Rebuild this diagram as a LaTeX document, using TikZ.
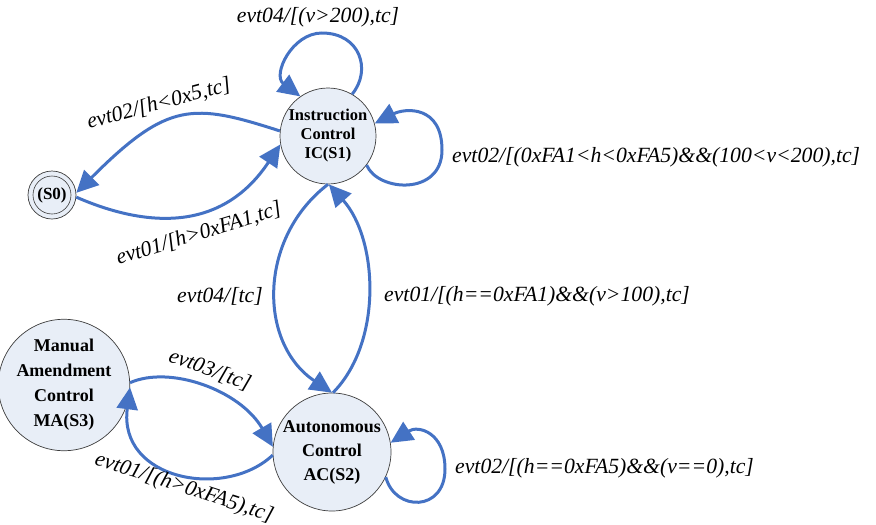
\documentclass[tikz,border=0pt]{standalone}
\usepackage{fontspec}
\setmainfont{Liberation Serif}
\usetikzlibrary{arrows.meta}
\definecolor{edgeblue}{RGB}{68,114,196}
\definecolor{statefill}{RGB}{232,238,247}
\definecolor{stateline}{RGB}{60,60,60}
\begin{document}
\begin{tikzpicture}[x=1pt,y=1pt,
  state/.style={circle,draw=stateline,line width=0.7pt,fill=statefill,inner sep=0pt,align=center},
  trans/.style={draw=edgeblue,line width=3pt,-{Triangle[length=22pt,width=21pt]}},
  lbl/.style={font=\fontsize{21.7}{24}\selectfont\itshape,inner sep=0pt}]
\useasboundingbox (0,0) rectangle (876,-525);

% states
\node[state,minimum size=48pt,font=\fontsize{17}{20}\selectfont\bfseries] (s0) at (52,-195) {(S0)};
\draw[stateline,line width=0.6pt] (s0.center) circle[radius=19pt];
\node[state,minimum size=96pt,font=\fontsize{16.5}{19}\selectfont\bfseries] (s1) at (328,-136) {Instruction\\Control\\IC(S1)};
\node[state,minimum size=118pt,font=\fontsize{18}{24}\selectfont\bfseries] (s2) at (332,-452) {Autonomous\\Control\\AC(S2)};
\node[state,minimum size=116pt,font=\fontsize{18}{25}\selectfont\bfseries] (s3) at (64,-385) {Manual\\Amendment\\Control\\MA(S3)};

% self-loop turning points
\coordinate (t1) at (322,-33);
\coordinate (r1) at (442,-150);
\coordinate (r2) at (445,-469);

% transitions
\draw[trans] (s1.174) .. controls (193,-103) and (168,-101) .. (s0.5);
\draw[trans] (s0.-5) .. controls (131,-221) and (216,-241) .. (s1.190);
\draw[trans] (s1.60) .. controls (372,-70) and (360,-33) .. (t1)
                      .. controls (292,-33) and (272,-75) .. (s1.125);
\draw[trans] (s1.-37) .. controls (378,-192) and (442,-196) .. (r1)
                       .. controls (442,-105) and (405,-108) .. (s1.15);
\draw[trans] (s1.270) .. controls (258,-238) and (258,-343) .. (s2.90);
\draw[trans] (s2.89) .. controls (383,-342) and (378,-239) .. (s1.271);
\draw[trans] (s3.2) .. controls (170,-365) and (240,-390) .. (s2.175);
\draw[trans] (s2.183) .. controls (225,-500) and (118,-480) .. (s3.-2);
\draw[trans] (s2.-25) .. controls (395,-512) and (445,-512) .. (r2)
                       .. controls (445,-432) and (418,-425) .. (s2.9);

% transition labels
\node[lbl] (l1) at (318,-17) {evt04/[(v>200),tc]};
\node[lbl,rotate=15] (l2) at (159,-104) {evt02/[h<0x5,tc]};
\node[lbl,rotate=17] (l3) at (199,-234) {evt01/[h>0xFA1,tc]};
\node[lbl,anchor=west] (l4) at (452,-157) {evt02/[(0xFA1<h<0xFA5)\&\&(100<v<200),tc]};
\node[lbl,anchor=east] (l5) at (263,-296) {evt04/[tc]};
\node[lbl,anchor=west] (l6) at (384,-296) {evt01/[(h==0xFA1)\&\&(v>100),tc]};
\node[lbl,rotate=-20] (l7) at (210,-370) {evt03/[tc]};
\node[lbl,rotate=-18] (l8) at (184,-488) {evt01/[(h>0xFA5),tc]};
\node[lbl,anchor=west] (l9) at (455,-468) {evt02/[(h==0xFA5)\&\&(v==0),tc]};
\end{tikzpicture}
\end{document}
